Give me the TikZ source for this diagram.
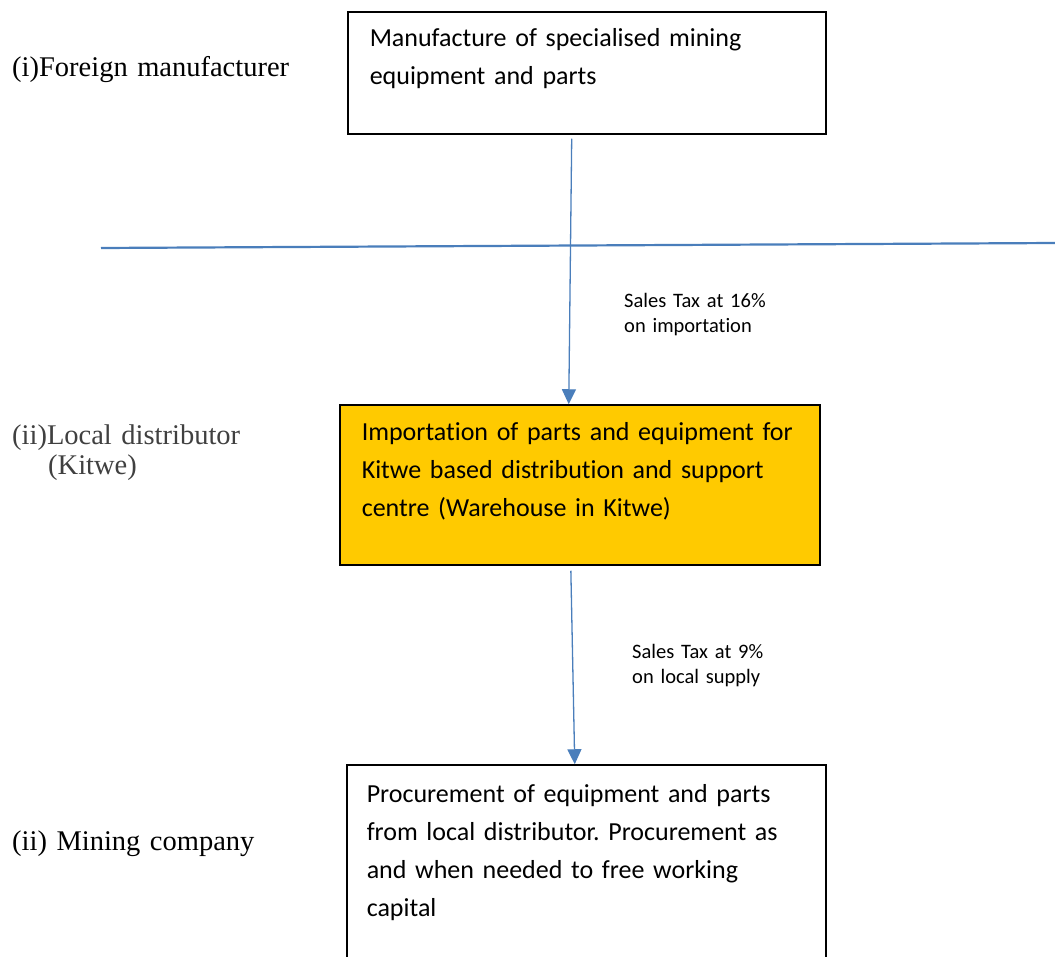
\documentclass[tikz,border=0pt]{standalone}
\usepackage{fontspec}
\setmainfont{Liberation Serif}
\newfontfamily\calibri[Ligatures=NoCommon]{Carlito}
\usetikzlibrary{positioning,arrows.meta}
\definecolor{wordblue}{HTML}{4A7EBB}
\definecolor{wordyellow}{HTML}{FFCA00}
\definecolor{darkgrey}{HTML}{404040}
\tikzset {
    style Box/.style={
        draw=black,
        line width=1.5pt,
        fill=white,
        rectangle, % text sits at the top of the box
        anchor=base west,
        inner ysep=0pt,
        align=left,
        font=\calibri\frenchspacing\fontsize{26}{38}\selectfont,
    },
    style Yellow/.style={
        style Box,
        fill=wordyellow,
    },
    style Tax/.style={
        anchor=base west,
        inner sep=0pt,
        text width=170pt,
        align=left,
        font=\calibri\fontsize{20.5}{25}\selectfont,
    },
    style Party/.style={
        anchor=base west,
        inner sep=0pt,
        text width=320pt,
        align=left,
        font=\fontsize{28.5}{30}\selectfont,
    },
    style Flow/.style={
        draw=wordblue,
        line width=1.3pt,
        -{Triangle[width=14pt,length=15pt]},
    },
}
\begin{document}
\begin{tikzpicture}[x=1pt, y=-1pt]
\useasboundingbox (0,0) rectangle (1055,957);
\clip (0,0) rectangle (1055,957);

\node[style Box, inner xsep=22pt, text width=434pt, text height=35pt, text depth=87pt] at (347,47) (manufacture) {Manufacture of specialised mining\\equipment and parts};
\node[style Yellow, inner xsep=22pt, text width=436pt, text height=35pt, text depth=125pt] at (339,440) (warehouse) {Importation of parts and equipment for\\Kitwe based distribution and support\\centre (Warehouse in Kitwe)};
\node[style Box, inner xsep=20pt, text width=439pt, text height=37pt, text depth=190pt] at (346,802) (procurement) {Procurement of equipment and parts\\from local distributor. Procurement as\\and when needed to free working\\capital};

\node[style Party] at (12,77) (foreign) {(i)Foreign manufacturer};
\node[style Party, text=darkgrey] at (12,445) (local) {(ii)Local distributor\\\hspace*{36pt}(Kitwe)};
\node[style Party] at (12,850) (mining) {(ii) Mining company};

\node[style Tax] at (624,308) (taxImport) {Sales Tax at 16\%\\on importation};
\node[style Tax] at (632,658) (taxLocal) {Sales Tax at 9\%\\on local supply};

% border line
\coordinate (borderW) at (101,248);
\coordinate (borderE) at (1056,243);
\draw[wordblue, line width=2.2pt] (borderW) -- (borderE);

\draw[style Flow, shorten <=4pt] ([xshift=-15pt]manufacture.south) -- ([xshift=-11pt]warehouse.north);
\draw[style Flow, shorten <=5pt] ([xshift=-9pt]warehouse.south) -- ([xshift=-11.5pt]procurement.north);
\end{tikzpicture}
\end{document}
